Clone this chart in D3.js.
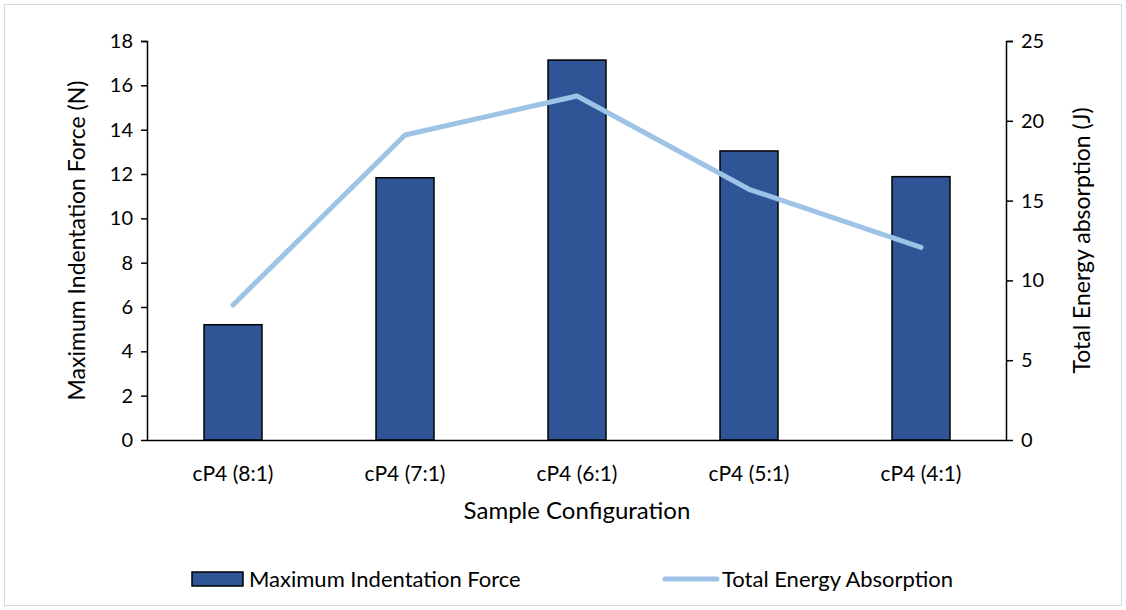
<!DOCTYPE html>
<html>
<head>
<meta charset="utf-8">
<script src="https://cdn.jsdelivr.net/npm/d3@7"></script>
<style>
  body { margin: 0; background: #fff; }
  text { font-family: Lato, "Open Sans", sans-serif; fill: #000; }
</style>
</head>
<body>
<div id="chart"></div>
<script>
// chart data
const categories = ["cP4 (8:1)", "cP4 (7:1)", "cP4 (6:1)", "cP4 (5:1)", "cP4 (4:1)"];
const forceValues = [5.2, 11.83, 17.14, 13.04, 11.88];
const energyValues = [8.46, 19.11, 21.55, 15.71, 12.07];
const leftTicks = [0, 2, 4, 6, 8, 10, 12, 14, 16, 18];
const rightTicks = [0, 5, 10, 15, 20, 25];

const W = 1126, H = 610;
const margin = { top: 41, right: 119, bottom: 170, left: 147 };
const width = W - margin.left - margin.right;
const height = H - margin.top - margin.bottom;

const svg = d3.select("#chart").append("svg")
    .attr("width", W)
    .attr("height", H);

// outer frame
svg.append("rect")
    .attr("x", 4.5).attr("y", 4.5)
    .attr("width", W - 9).attr("height", H - 9)
    .attr("fill", "#fff")
    .attr("stroke", "#d9d9d9");

const g = svg.append("g")
    .attr("transform", "translate(" + margin.left + "," + margin.top + ")");

const x = d3.scaleBand()
    .domain(categories)
    .range([0, width])
    .paddingInner(0.663)
    .paddingOuter(0.3315);

const yLeft = d3.scaleLinear().domain([0, 18]).range([height, 0]);
const yRight = d3.scaleLinear().domain([0, 25]).range([height, 0]);

// bars
g.selectAll(".bar")
    .data(categories)
    .enter()
    .append("rect")
    .attr("class", "bar")
    .attr("x", d => x(d))
    .attr("y", (d, i) => yLeft(forceValues[i]))
    .attr("width", x.bandwidth())
    .attr("height", (d, i) => height - yLeft(forceValues[i]))
    .attr("fill", "#2f5597")
    .attr("stroke", "#000")
    .attr("stroke-width", 1.5);

// energy line
const line = d3.line()
    .x((d, i) => x(categories[i]) + x.bandwidth() / 2)
    .y(d => yRight(d));

g.append("path")
    .datum(energyValues)
    .attr("d", line)
    .attr("fill", "none")
    .attr("stroke", "#9dc3e6")
    .attr("stroke-width", 5)
    .attr("stroke-linecap", "round")
    .attr("stroke-linejoin", "round");

// axes
const leftAxis = g.append("g")
    .call(d3.axisLeft(yLeft).tickValues(leftTicks).tickSize(6).tickPadding(8));

const rightAxis = g.append("g")
    .attr("transform", "translate(" + width + ",0)")
    .call(d3.axisRight(yRight).tickValues(rightTicks).tickSize(6).tickPadding(8));

const bottomAxis = g.append("g")
    .attr("transform", "translate(0," + height + ")")
    .call(d3.axisBottom(x).tickSize(0).tickPadding(26));

[leftAxis, rightAxis].forEach(a => {
    a.selectAll(".tick text").style("font-size", "20px").style("font-family", "Lato, sans-serif");
});
bottomAxis.selectAll(".tick text").style("font-size", "21px").style("font-family", "Lato, sans-serif");
[leftAxis, rightAxis, bottomAxis].forEach(a => {
    a.select(".domain").attr("stroke", "#000").attr("stroke-width", 1.5);
    a.selectAll(".tick line").attr("stroke", "#000").attr("stroke-width", 1.5);
});
leftAxis.select(".domain").attr("d", "M-6,0.5H0.5V" + height);
rightAxis.select(".domain").attr("d", "M6,0.5H-0.5V" + height);
bottomAxis.select(".domain").attr("d", "M0,0.5H" + width);

// axis titles
svg.append("text")
    .attr("transform", "translate(85," + (margin.top + height / 2) + ") rotate(-90)")
    .attr("text-anchor", "middle")
    .style("font-size", "23px")
    .text("Maximum Indentation Force (N)");

svg.append("text")
    .attr("transform", "translate(1090," + (margin.top + height / 2) + ") rotate(-90)")
    .attr("text-anchor", "middle")
    .style("font-size", "23px")
    .text("Total Energy absorption (J)");

svg.append("text")
    .attr("x", margin.left + width / 2)
    .attr("y", 519)
    .attr("text-anchor", "middle")
    .style("font-size", "24px")
    .text("Sample Configuration");

// legend
const legend = svg.append("g");
legend.append("rect")
    .attr("x", 192).attr("y", 572)
    .attr("width", 51).attr("height", 14)
    .attr("fill", "#2f5597")
    .attr("stroke", "#000")
    .attr("stroke-width", 1.5);
legend.append("text")
    .attr("x", 249).attr("y", 587)
    .style("font-size", "22px")
    .text("Maximum Indentation Force");
legend.append("line")
    .attr("x1", 665).attr("x2", 717)
    .attr("y1", 579).attr("y2", 579)
    .attr("stroke", "#9dc3e6")
    .attr("stroke-width", 5)
    .attr("stroke-linecap", "round");
legend.append("text")
    .attr("x", 722).attr("y", 587)
    .style("font-size", "22px")
    .text("Total Energy Absorption");
</script>
</body>
</html>
